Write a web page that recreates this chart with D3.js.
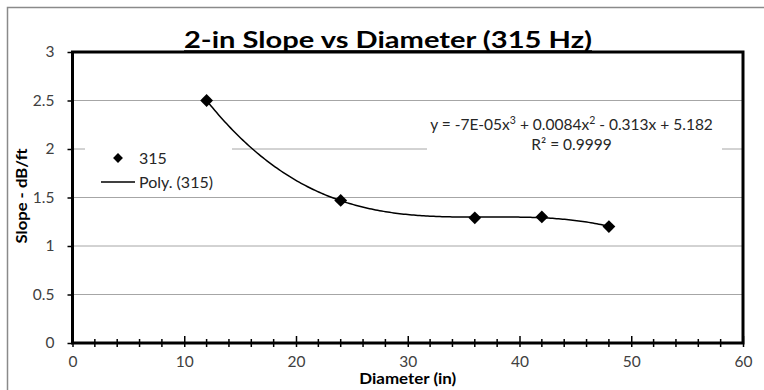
<!DOCTYPE html>
<html><head><meta charset="utf-8">
<script src="https://cdn.jsdelivr.net/npm/d3@7"></script>
<style>body{margin:0;background:#fff}svg{display:block}text{font-family:Lato,"Open Sans",sans-serif}</style>
</head><body>
<script>
const diameters = [12, 24, 36, 42, 48];
const slopes = [2.50, 1.47, 1.29, 1.30, 1.20];
const seriesName = "315";
const trendName = "Poly. (315)";
const xTicks = [0, 10, 20, 30, 40, 50, 60];
const yTicks = [0, 0.5, 1, 1.5, 2, 2.5, 3];
const titleText = "2-in Slope vs Diameter (315 Hz)";
const xTitle = "Diameter (in)";
const yTitle = "Slope - dB/ft";
const r2Text = "R² = 0.9999";

const W = 764, H = 390;
const svg = d3.select("body").append("svg").attr("width", W).attr("height", H);
const L = 72.5, R = 743, T = 52, B = 343;
const x = d3.scaleLinear().domain([0, 60]).range([L, R]);
const y = d3.scaleLinear().domain([0, 3]).range([B, T]);

// outer frame (top/left visible)
svg.append("path").attr("d", `M7.5,${H} V7.5 H${W}`).attr("fill", "none").attr("stroke", "#8a8a8a").attr("stroke-width", 1.5);

// gridlines
svg.append("g").selectAll("line").data(yTicks.filter(d => d > 0 && d < 3)).join("line")
  .attr("x1", L).attr("x2", R).attr("y1", d => y(d)).attr("y2", d => y(d))
  .attr("stroke", "#a6a6a6").attr("stroke-width", 1);

// y axis
const yAxis = d3.axisLeft(y).tickValues(yTicks).tickFormat(d3.format("")).tickSize(5).tickSizeOuter(0);
const gy = svg.append("g").attr("transform", `translate(${L},0)`).call(yAxis);
gy.select(".domain").remove();
gy.selectAll("line").attr("stroke", "#000").attr("stroke-width", 1.5);
gy.selectAll("text").attr("x", -18).attr("font-size", 15.5).attr("fill", "#404040");

// x axis minor ticks
const minor = d3.range(0, 61, 2).filter(d => d % 10 !== 0);
svg.append("g").selectAll("line").data(minor).join("line")
  .attr("x1", d => x(d)).attr("x2", d => x(d)).attr("y1", B - 4).attr("y2", B + 4)
  .attr("stroke", "#000").attr("stroke-width", 1.5);
const xAxis = d3.axisBottom(x).tickValues(xTicks).tickSize(4).tickSizeOuter(0);
const gx = svg.append("g").attr("transform", `translate(0,${B})`).call(xAxis);
gx.select(".domain").remove();
gx.selectAll(".tick line").attr("y1", -7).attr("stroke", "#000").attr("stroke-width", 1.5);
gx.selectAll("text").attr("y", 13).attr("font-size", 15.5).attr("fill", "#404040");

// plot frame
svg.append("rect").attr("x", L).attr("y", T).attr("width", R - L).attr("height", B - T)
  .attr("fill", "none").attr("stroke", "#000").attr("stroke-width", 3);

// cubic least-squares trendline computed from the data
function polyfit(xs, ys, deg) {
  const n = deg + 1;
  const A = Array.from({length: n}, () => new Array(n + 1).fill(0));
  for (let i = 0; i < xs.length; i++) {
    for (let r = 0; r < n; r++) {
      for (let c = 0; c < n; c++) A[r][c] += Math.pow(xs[i], r + c);
      A[r][n] += ys[i] * Math.pow(xs[i], r);
    }
  }
  for (let i = 0; i < n; i++) {
    let p = i;
    for (let k = i + 1; k < n; k++) if (Math.abs(A[k][i]) > Math.abs(A[p][i])) p = k;
    [A[i], A[p]] = [A[p], A[i]];
    for (let k = i + 1; k < n; k++) {
      const f = A[k][i] / A[i][i];
      for (let j = i; j <= n; j++) A[k][j] -= f * A[i][j];
    }
  }
  const c = new Array(n).fill(0);
  for (let i = n - 1; i >= 0; i--) {
    let s = A[i][n];
    for (let j = i + 1; j < n; j++) s -= A[i][j] * c[j];
    c[i] = s / A[i][i];
  }
  return c;
}
const coef = polyfit(diameters, slopes, 3);
const fx = v => coef.reduce((s, c, i) => s + c * Math.pow(v, i), 0);
const xmin = d3.min(diameters), xmax = d3.max(diameters);
const curvePts = d3.range(0, 201).map(i => { const v = xmin + (xmax - xmin) * i / 200; return [v, fx(v)]; });
svg.append("path").datum(curvePts)
  .attr("d", d3.line().x(d => x(d[0])).y(d => y(d[1])))
  .attr("fill", "none").attr("stroke", "#000").attr("stroke-width", 1.5);

// markers
const diamond = d3.symbol().type(d3.symbolDiamond2).size(105);
svg.append("g").selectAll("path").data(diameters.map((d, i) => [d, slopes[i]])).join("path")
  .attr("transform", d => `translate(${x(d[0])},${y(d[1])})`)
  .attr("d", diamond).attr("fill", "#000");

// title
svg.append("text").attr("x", 388).attr("y", 48).attr("text-anchor", "middle")
  .attr("font-size", 23).attr("font-weight", "bold").attr("fill", "#000")
  .attr("textLength", 408).attr("lengthAdjust", "spacingAndGlyphs").text(titleText);
svg.append("line").attr("x1", 184).attr("x2", 592).attr("y1", 51).attr("y2", 51)
  .attr("stroke", "#000").attr("stroke-width", 1.5);

// axis titles
svg.append("text").attr("x", x(30)).attr("y", 384).attr("text-anchor", "middle")
  .attr("font-size", 15).attr("font-weight", "bold")
  .attr("textLength", 97).attr("lengthAdjust", "spacingAndGlyphs").text(xTitle);
svg.append("text").attr("transform", `translate(27,196) rotate(-90)`).attr("text-anchor", "middle")
  .attr("font-size", 15).attr("font-weight", "bold")
  .attr("textLength", 95).attr("lengthAdjust", "spacingAndGlyphs").text(yTitle);

// legend
const lg = svg.append("g");
lg.append("rect").attr("x", 85).attr("y", 140).attr("width", 147).attr("height", 54).attr("fill", "#fff");
lg.append("path").attr("transform", "translate(118,158)").attr("d", d3.symbol().type(d3.symbolDiamond2).size(62)).attr("fill", "#000");
lg.append("text").attr("x", 139).attr("y", 164).attr("font-size", 16).attr("fill", "#262626").text(seriesName);
lg.append("line").attr("x1", 101).attr("x2", 135).attr("y1", 182).attr("y2", 182).attr("stroke", "#000").attr("stroke-width", 1.5);
lg.append("text").attr("x", 139).attr("y", 188).attr("font-size", 16).attr("fill", "#262626").text(trendName);

// equation label
const eq = svg.append("g");
eq.append("rect").attr("x", 427).attr("y", 114).attr("width", 295).attr("height", 42).attr("fill", "#fff");
const t1 = eq.append("text").attr("x", 571.5).attr("y", 130).attr("text-anchor", "middle")
  .attr("font-size", 15.5).attr("fill", "#262626");
t1.append("tspan").text("y = -7E-05x");
t1.append("tspan").attr("dy", -6).attr("font-size", 10.5).text("3");
t1.append("tspan").attr("dy", 6).text(" + 0.0084x");
t1.append("tspan").attr("dy", -6).attr("font-size", 10.5).text("2");
t1.append("tspan").attr("dy", 6).text(" - 0.313x + 5.182");
eq.append("text").attr("x", 571.5).attr("y", 150).attr("text-anchor", "middle")
  .attr("font-size", 15.5).attr("fill", "#262626").text(r2Text);
</script>
</body></html>
